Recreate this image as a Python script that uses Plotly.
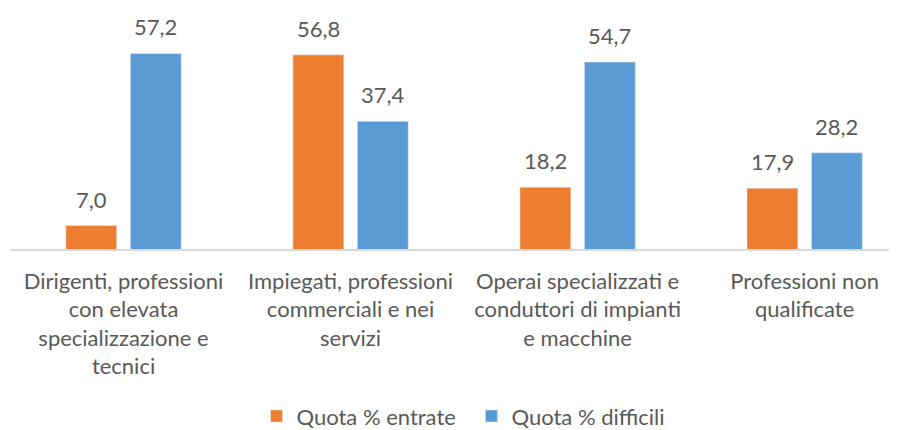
import plotly.graph_objects as go

categories = [
    "Dirigenti, professioni<br>con elevata<br>specializzazione e<br>tecnici",
    "Impiegati, professioni<br>commerciali e nei<br>servizi",
    "Operai specializzati e<br>conduttori di impianti<br>e macchine",
    "Professioni non<br>qualificate",
]
entrate = [7.0, 56.8, 18.2, 17.9]
difficili = [57.2, 37.4, 54.7, 28.2]
series_names = ["Quota % entrate", "Quota % difficili"]
colors = ["#ED7D31", "#5B9BD5"]

def fmt(v):
    return f"{v:.1f}".replace(".", ",")

FONT = "Lato"
TXT = "#595959"
FS = 22
x = list(range(len(categories)))
offsets = [-0.254, 0.030]
W = 0.224

fig = go.Figure()
for name, vals, col, off in zip(series_names, [entrate, difficili], colors, offsets):
    fig.add_trace(go.Bar(
        x=x, y=vals, name=name, marker_color=col,
        width=W, offset=off, cliponaxis=False,
    ))
    for xi, v in zip(x, vals):
        fig.add_annotation(
            x=xi + off + W / 2, y=v, text=fmt(v), showarrow=False,
            yanchor="bottom", yshift=11, xref="x", yref="y",
            font=dict(family=FONT, size=FS, color=TXT),
        )

fig.update_layout(
    width=897, height=430,
    margin=dict(l=2, r=0, t=0, b=0, autoexpand=False),
    paper_bgcolor="white", plot_bgcolor="white",
    barmode="group",
    font=dict(family=FONT, size=FS, color=TXT),
    showlegend=True,
    legend=dict(orientation="h", x=247 / 897, xanchor="left",
                y=0.002, yanchor="bottom",
                font=dict(family=FONT, size=FS, color=TXT), itemwidth=30,
                entrywidth=170, traceorder="normal"),
    xaxis=dict(range=[-0.5, 3.442], tickvals=x, ticktext=categories,
               showline=True, linecolor="#D9D9D9", linewidth=1.5,
               showgrid=False, zeroline=False, ticks="outside", ticklen=11,
               tickcolor="rgba(0,0,0,0)", automargin=False,
               tickfont=dict(family=FONT, size=FS, color=TXT)),
    yaxis=dict(range=[0, 60], domain=[0.4384, 0.9165], visible=False,
               showgrid=False, zeroline=False, automargin=False),
)

fig.write_html("out.html")
